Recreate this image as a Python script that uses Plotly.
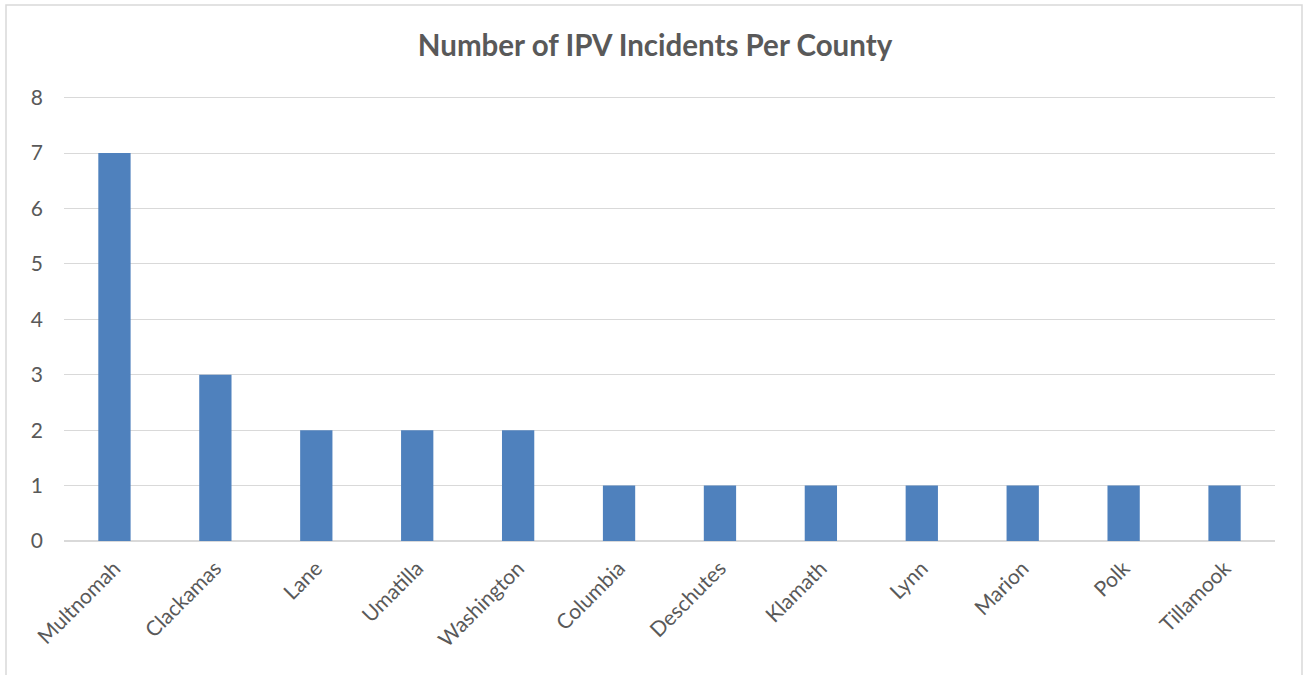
import plotly.graph_objects as go

counties = ["Multnomah", "Clackamas", "Lane", "Umatilla", "Washington", "Columbia",
            "Deschutes", "Klamath", "Lynn", "Marion", "Polk", "Tillamook"]
incidents = [7, 3, 2, 2, 2, 1, 1, 1, 1, 1, 1, 1]
y_ticks = [0, 1, 2, 3, 4, 5, 6, 7, 8]

W, H = 1305, 675
y_top = 8.03
ml, mr, mt, mb = 64, 30, 96, 134
pw, ph = W - ml - mr, H - mt - mb

fig = go.Figure(go.Bar(x=counties, y=incidents, marker=dict(color="#4F81BD", line=dict(width=0)),
                       hoverinfo="x+y"))

fig.update_layout(
    width=W, height=H,
    margin=dict(l=ml, r=mr, t=mt, b=mb),
    paper_bgcolor="white", plot_bgcolor="white",
    bargap=0.68,
    showlegend=False,
    font=dict(family="Lato, Open Sans, sans-serif", color="#595959", size=21),
    title=dict(text="<b>Number of IPV Incidents Per County</b>", x=655 / W, xanchor="center",
               y=1 - 46 / H, yanchor="middle", yref="container",
               font=dict(size=29.5, color="#595959", family="Lato, Open Sans, sans-serif")),
    xaxis=dict(tickangle=-45, showgrid=False, showline=False, ticks="", ticklabelstandoff=10,
               tickfont=dict(size=21, color="#595959")),
    yaxis=dict(range=[0, y_top], tickvals=y_ticks, showgrid=True, gridcolor="#d9d9d9", gridwidth=1.3,
               zeroline=True, zerolinecolor="#d9d9d9", zerolinewidth=2, showline=False,
               ticks="", ticklabelstandoff=20, tickfont=dict(size=21, color="#595959")),
    shapes=[dict(type="rect", xref="paper", yref="paper",
                 x0=(6 - ml) / pw, x1=(1302 - ml) / pw,
                 y0=-(H + 10 - (H - mb)) / ph, y1=1 + (mt - 5) / ph,
                 line=dict(color="#d9d9d9", width=1.5), fillcolor="rgba(0,0,0,0)", layer="below")],
)

fig.write_html("out.html", config={"displayModeBar": False},
               post_script="document.body.style.margin='0';document.body.style.overflow='hidden';")
